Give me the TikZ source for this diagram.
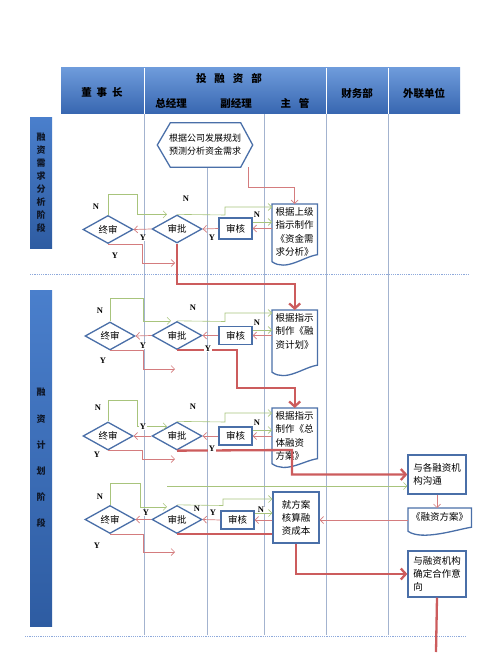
\documentclass[tikz,border=0pt]{standalone}
\usepackage{fontspec}
\setmainfont{Liberation Serif}
\newfontfamily\cjk{Noto Sans CJK SC}
\usetikzlibrary{arrows.meta, shapes.geometric}
\definecolor{hdtop}{HTML}{6E9BDB}
\definecolor{hdbot}{HTML}{3766B0}
\definecolor{hdtext}{HTML}{0E1626}
\definecolor{bartop}{HTML}{4A7FCC}
\definecolor{barbot}{HTML}{2E5CA2}
\definecolor{lanec}{HTML}{A3B3CF}
\definecolor{sepc}{HTML}{8EA9DB}
\definecolor{shapec}{HTML}{4A6FA8}
\definecolor{greenc}{HTML}{A8C47C}
\definecolor{redthin}{HTML}{D47C7E}
\definecolor{redthick}{HTML}{CC5C5D}

\begin{document}
\begin{tikzpicture}[x=1pt, y=-1pt,
    hcell/.style={rectangle, top color=hdtop, bottom color=hdbot, minimum height=46pt},
    htext/.style={text=black, font=\cjk\bfseries\fontsize{10.5}{12}\selectfont\color{black}},
    phase/.style={rectangle, top color=bartop, bottom color=barbot, minimum width=22pt, align=center, text=hdtext, font=\cjk\bfseries\fontsize{9}{13}\selectfont},
    lane/.style={draw=lanec, line width=0.8pt},
    sep/.style={draw=sepc, line width=0.8pt, dash pattern=on 1.2pt off 1pt},
    dia/.style={diamond, draw=shapec, line width=1.3pt, fill=white, minimum width=50pt, minimum height=28pt, inner sep=0pt, font=\cjk\fontsize{9.5}{11}\selectfont},
    box/.style={rectangle, draw=shapec, line width=1.3pt, fill=white, inner sep=2pt, align=left, font=\cjk\fontsize{9.5}{13}\selectfont},
    doc/.style={rectangle, inner sep=3pt, align=left, font=\cjk\fontsize{9.5}{13.5}\selectfont},
    outl/.style={draw=shapec, line width=1.3pt},
    yn/.style={fill=white, inner sep=0.5pt, font=\fontsize{8.5}{10}\selectfont\bfseries},
    garr/.style={draw=greenc, line width=0.6pt, -{Straight Barb[length=3.5pt, width=7pt]}},
    rarr/.style={draw=redthin, line width=0.7pt, -{Straight Barb[length=3.5pt, width=7pt]}},
    bigline/.style={draw=redthick, line width=2.3pt},
    bigarr/.style={bigline, -{Straight Barb[length=5pt, width=11pt]}}
]
    \useasboundingbox (0,0) rectangle (500,658);

    % Header
    \node[hcell, minimum width=83pt] (hd1) at (102.5,91) {};
    \node[hcell, minimum width=182pt] (hd2) at (235,91) {};
    \node[hcell, minimum width=62pt] (hd3) at (357,91) {};
    \node[hcell, minimum width=72pt] (hd4) at (424,91) {};
    \foreach \x in {144,326,388}
        \draw[white, line width=1pt] (\x,68) -- (\x,114);
    \node[htext] (dsz) at (102,93) {董\hspace{5pt}事\hspace{5pt}长};
    \node[htext] (cwb) at (357,93) {财务部};
    \node[htext] (wld) at (424,93) {外联单位};
    \node[htext] (trz) at (229,78) {投\hspace{8pt}融\hspace{8pt}资\hspace{8pt}部};
    \node[htext] (zjl) at (171,103) {总经理};
    \node[htext] (fjl) at (236,103) {副经理};
    \node[htext] (zgg) at (295,103) {主\hspace{8pt}管};

    % Lanes and phase separators
    \foreach \x in {144,264,326,388}
        \draw[lane] (\x,114) -- (\x,635);
    \draw[lane] (207,167) -- (207,635);
    \draw[sep] (30,274.5) -- (470,274.5);
    \draw[sep] (25,636) -- (467,636);

    % Phase bars
    \node[phase, minimum height=130pt] (ph1) at (41,183) {融\\资\\需\\求\\分\\析\\阶\\段};
    \node[phase, minimum height=336pt, font=\cjk\bfseries\fontsize{9}{26.2}\selectfont] (ph2) at (41,458) {融\\资\\计\\划\\阶\\段};

    % Hexagon and documents
    \node[doc, align=center, minimum width=95pt, minimum height=44pt, font=\cjk\fontsize{9}{13}\selectfont] (hx) at (205,145) {根据公司发展规划\\预测分析资金需求};
    \draw[outl] (hx.west) -- ([xshift=13pt]hx.north west) -- ([xshift=-12pt]hx.north east) -- (hx.east)
        -- ([xshift=-12pt]hx.south east) -- ([xshift=13pt]hx.south west) -- cycle;
    \node[doc, anchor=north west, minimum width=45pt] (d1) at (272,204) {根据上级\\指示制作\\《资金需\\求分析》};
    \node[doc, anchor=north west, minimum width=45pt] (d2) at (272,310) {根据指示\\制作《融\\资计划》};
    \node[doc, anchor=north west, minimum width=45pt] (d3) at (272,408) {根据指示\\制作《总\\体融资\\方案》};
    \node[doc, anchor=north west, minimum width=55pt, inner ysep=4pt] (fa) at (408,508) {《融资方案》};
    \foreach \d/\h/\r in {d1/2/7, d2/20/7, d3/0/5, fa/6/4}
        \draw[outl] (\d.north west) -- (\d.north east) -- ([yshift=\r pt-\h pt]\d.south east)
            .. controls +(-14,2) and +(14,10) .. ([yshift=-\h pt]\d.south west) -- cycle;

    % Boxes on the right
    \node[box, minimum width=46pt, minimum height=51pt] (js) at (296,517.5) {就方案\\核算融\\资成本};
    \node[box, minimum width=58pt, minimum height=39pt] (b1) at (437,474.5) {与各融资机\\构沟通};
    \node[box, minimum width=58pt, minimum height=46pt] (b2) at (437,574) {与融资机构\\确定合作意\\向};

    % Section 1
    \node[dia] (zs1) at (108,229.5) {终审};
    \node[dia] (sp1) at (177,229) {审批};
    \node[box, minimum width=33pt, minimum height=21pt] (sh1) at (235.5,228.5) {审核};
    \coordinate (e1) at (175,263);
    \draw[rarr] ([xshift=-4pt]hx.south east) -- ++(0,20) -| (d1.north);
    \draw[garr] (sh1.east |- 0,222) -- (d1.west |- 0,222);
    \draw[rarr] (d1.west |- sh1.east) -- (sh1.east);
    \draw[rarr] (sh1.west) -- (sp1.east);
    \draw[rarr] (sp1.west) -- (zs1.east);
    \draw[garr] (sp1.north) -- (225,215) |- (d1.west |- 0,207);
    \draw[garr] (zs1.north) |- (137,194) |- ([xshift=-10pt]sp1.north);
    \draw[rarr] (zs1.south) -| (142,263) -- (e1);
    \draw[bigarr] (sp1.south) -- ++(0,40) -| (d2.north);
    \node[yn] (n11) at (96,207) {N};
    \node[yn] (n12) at (186,199) {N};
    \node[yn] (n13) at (257,215) {N};
    \node[yn] (y11) at (143,238) {Y};
    \node[yn] (y12) at (212,238) {Y};
    \node[yn] (y13) at (115,256) {Y};

    % Section 2
    \node[dia] (zs2) at (110,336) {终审};
    \node[dia] (sp2) at (177,335.5) {审批};
    \node[box, minimum width=33pt, minimum height=18pt] (sh2) at (235.5,335.5) {审核};
    \coordinate (e2) at (175,369);
    \draw[garr] (sh2.east |- 0,330) -- (d2.west |- 0,330);
    \draw[rarr] (d2.west |- sh2.east) -- (sh2.east);
    \draw[rarr] (sh2.west) -- (sp2.east);
    \draw[rarr] (sp2.west) -- (zs2.east);
    \draw[garr] (sp2.north) -- (225,321.5) |- (d2.west |- 0,313);
    \draw[garr] (zs2.north) |- (143,298) |- ([xshift=-6pt]sp2.north);
    \draw[rarr] (zs2.south) -| (143,369) -- (e2);
    \draw[bigarr] (sp2.south) -| (237,388) -| (d3.north);
    \node[yn] (n21) at (100,311) {N};
    \node[yn] (n22) at (193,308) {N};
    \node[yn] (n23) at (257,323) {N};
    \node[yn] (y21) at (143,346) {Y};
    \node[yn] (y22) at (208,349) {Y};
    \node[yn] (y23) at (103,361) {Y};

    % Section 3
    \node[dia] (zs3) at (108,436) {终审};
    \node[dia] (sp3) at (177,436) {审批};
    \node[box, minimum width=33pt, minimum height=18pt] (sh3) at (235.5,436) {审核};
    \coordinate (e3) at (175,459);
    \draw[garr] (sh3.east |- 0,430) -- (d3.west |- 0,430);
    \draw[rarr] (d3.west |- sh3.east) -- (sh3.east);
    \draw[rarr] (sh3.west) -- (sp3.east);
    \draw[rarr] (sp3.west) -- (zs3.east);
    \draw[garr] (sp3.north) -- (225,422) |- (d3.west |- 0,413);
    \draw[garr] (zs3.north) |- (137,400) |- ([xshift=-10pt, yshift=-5pt]sp3.north);
    \draw[rarr] (zs3.south) -| (142,459) -- (e3);
    \draw[bigarr] (sp3.south) -- (292,450) |- (b1.west);
    \node[yn] (n31) at (98,408) {N};
    \node[yn] (n32) at (193,407) {N};
    \node[yn] (n33) at (257,423) {N};
    \node[yn] (y31) at (143,427) {Y};
    \node[yn] (y32) at (212,449) {Y};
    \node[yn] (y33) at (97,455) {Y};

    % Section 4
    \node[dia] (zs4) at (110,519.5) {终审};
    \node[dia] (sp4) at (177,519.5) {审批};
    \node[box, minimum width=33pt, minimum height=18pt] (sh4) at (237.5,520) {审核};
    \coordinate (e4) at (175,552);
    \coordinate (g4) at (167,486);
    \coordinate (e5) at (436,652);
    \draw[garr] (g4) -- (g4 -| b1.west);
    \draw[garr] (sh4.east |- 0,513) -- (js.west |- 0,513);
    \draw[rarr] (js.west |- sh4.east) -- (sh4.east);
    \draw[rarr] (sh4.west) -- (sp4.east);
    \draw[rarr] (sp4.west) -- (zs4.east);
    \draw[garr] (sp4.north) -- (223,505.5) |- (js.west |- 0,499);
    \draw[garr] (zs4.north) |- (140,483) |- ([xshift=-10pt, yshift=-2pt]sp4.north);
    \draw[rarr] (zs4.south) -| (143,552) -- (e4);
    \draw[bigline] (sp4.south) -- (sp4.south -| js.west);
    \draw[bigarr] (js.south) |- (b2.west);
    \draw[rarr] (b1.south) -- (b1.south |- fa.north);
    \draw[rarr] (fa.west |- 0,520) -- (js.east |- 0,520);
    \draw[bigline] (b2.south) -- (e5);
    \node[yn] (n41) at (100,497) {N};
    \node[yn] (n42) at (197,509) {N};
    \node[yn] (n43) at (261,510) {N};
    \node[yn] (y41) at (146,513) {Y};
    \node[yn] (y42) at (213,513) {Y};
    \node[yn] (y43) at (97,546) {Y};
\end{tikzpicture}
\end{document}
